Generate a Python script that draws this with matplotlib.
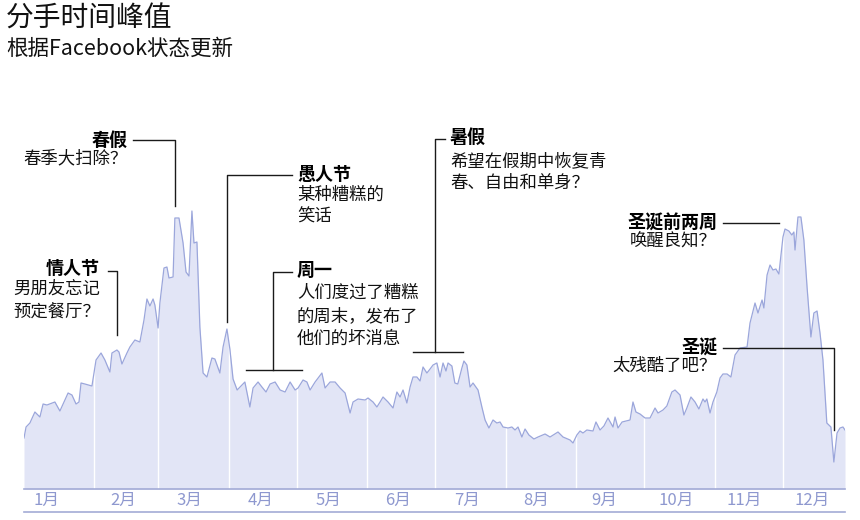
import matplotlib.pyplot as plt
from matplotlib.lines import Line2D

plt.rcParams['font.family'] = ['Noto Sans CJK SC', 'DejaVu Sans']

# day of year (0 = Jan 1) and relative number of breakup mentions
days = [0.0, 0.9, 2.6, 4.8, 7.0, 8.4, 10.1, 13.6, 15.8, 19.4, 21.1, 22.9, 24.2, 25.1, 26.8,
        29.9, 31.7, 33.9, 35.6, 37.8, 38.7, 40.9, 41.8, 43.1, 45.3, 46.6, 48.8, 51.0, 52.8,
        54.1, 55.4, 56.8, 57.6, 59.0, 59.8, 61.6, 62.9, 63.8, 65.6, 66.4, 68.2, 70.0, 71.3,
        72.6, 73.9, 74.8, 76.1, 77.4, 78.8, 80.5, 82.7, 84.0, 86.2, 87.6, 89.3, 90.6, 92.0,
        93.8, 95.9, 97.2, 99.4, 100.8, 103.0, 104.7, 106.5, 108.3, 110.5, 112.7, 114.9,
        117.1, 119.3, 120.6, 122.8, 124.5, 125.9, 128.1, 131.1, 132.5, 134.7, 136.9, 139.1,
        141.3, 142.6, 143.5, 144.8, 147.0, 150.1, 151.4, 153.6, 155.3, 156.7, 158.0, 160.2,
        162.4, 164.1, 165.5, 166.8, 168.5, 169.9, 171.2, 172.9, 174.3, 175.6, 177.3, 178.7,
        180.0, 181.7, 183.1, 184.4, 185.7, 186.6, 188.3, 189.6, 190.9, 192.7, 193.6, 194.9,
        196.3, 197.6, 199.8, 201.5, 202.9, 204.6, 206.4, 208.1, 209.5, 210.8, 213.0, 214.7,
        216.1, 217.4, 219.1, 220.5, 222.2, 224.4, 226.2, 229.3, 231.5, 235.0, 237.2, 240.3,
        241.6, 243.3, 244.7, 246.0, 247.7, 250.4, 251.7, 253.5, 255.2, 257.0, 259.2, 260.1,
        261.4, 263.2, 266.7, 268.0, 269.3, 271.1, 273.3, 275.5, 277.7, 279.0, 281.2, 282.9,
        285.1, 286.5, 288.7, 290.4, 291.7, 293.5, 295.3, 297.0, 298.8, 299.7, 300.5, 301.9,
        303.2, 304.9, 306.3, 307.6, 309.4, 311.1, 312.9, 315.1, 318.2, 319.5, 321.7, 323.0,
        324.8, 325.6, 327.0, 328.3, 329.6, 330.9, 332.2, 334.0, 334.9, 336.6, 337.9, 338.8,
        339.3, 340.6, 341.9, 343.2, 344.6, 346.3, 347.6, 349.0, 350.3, 351.6, 352.9, 353.3,
        355.1, 356.4, 357.8, 359.1, 360.4, 361.3]
values = [51, 62, 66, 77, 72, 85, 84, 87, 78, 96, 94, 85, 87, 106, 105,
          103, 129, 136, 129, 117, 136, 139, 137, 125, 136, 142, 149, 147, 169,
          190, 183, 190, 184, 161, 186, 221, 222, 211, 212, 271, 271, 246, 217,
          213, 278, 246, 247, 162, 116, 112, 131, 130, 116, 142, 160, 140, 110,
          99, 104, 107, 82, 101, 107, 102, 97, 105, 107, 99, 97,
          107, 99, 101, 109, 107, 99, 107, 116, 101, 107, 107, 101,
          96, 84, 76, 87, 90, 89, 91, 87, 82, 87, 92, 87,
          81, 97, 92, 99, 86, 102, 112, 112, 108, 122, 116, 120,
          124, 126, 112, 126, 118, 126, 123, 106, 105, 121, 128, 124,
          102, 106, 99, 82, 69, 61, 69, 66, 67, 62, 61, 62,
          59, 62, 52, 60, 54, 50, 52, 55, 52, 57, 52, 49,
          46, 54, 58, 56, 59, 58, 67, 59, 63, 71, 62, 72,
          61, 67, 69, 87, 77, 75, 71, 71, 81, 76, 79, 83,
          97, 99, 94, 74, 81, 92, 87, 80, 90, 87, 90, 76,
          87, 97, 111, 115, 115, 112, 134, 141, 142, 166, 186, 176,
          189, 181, 214, 224, 219, 220, 215, 252, 260, 258, 254, 257,
          239, 272, 272, 249, 202, 152, 176, 178, 156, 129, 82, 66,
          62, 27, 56, 61, 62, 59]

month_starts = [31, 59, 90, 120, 151, 181, 212, 243, 273, 304, 334]
month_label_days = [10, 43.5, 73, 104, 134, 164.5, 195, 225.5, 255.5, 287, 317, 347]
month_labels = ['1月', '2月', '3月', '4月', '5月', '6月', '7月', '8月', '9月', '10月', '11月', '12月']

W, H = 860, 520
fig = plt.figure(figsize=(8.6, 5.2), dpi=100)
ax = fig.add_axes([24 / W, 31 / H, 821 / W, 389 / H])

line_c = '#9ba6db'
fill_c = '#e2e5f6'
label_c = '#8e98cf'

ax.fill_between(days, values, 0, color=fill_c, lw=0, zorder=1)
for d in month_starts:
    ax.axvline(d, color='white', lw=1.0, zorder=2)
ax.plot(days, values, color=line_c, lw=0.9, zorder=3)

ax.set_xlim(0, 361.3)
ax.set_ylim(0, 389)
for s in ['top', 'right', 'left']:
    ax.spines[s].set_visible(False)
ax.spines['bottom'].set_color('#a3abd6')
ax.spines['bottom'].set_linewidth(1.2)
ax.set_yticks([])
ax.set_xticks(month_label_days)
ax.set_xticklabels(month_labels, color=label_c, fontsize=12)
ax.tick_params(axis='x', length=0, pad=2)
ax.plot([0, 1], [-23 / 389, -23 / 389], transform=ax.transAxes, color='#a3abd6',
        lw=1.2, clip_on=False)


def P(x, y):
    return (x / W, 1 - y / H)


def seg(*pts):
    xs = [p[0] / W for p in pts]
    ys = [1 - p[1] / H for p in pts]
    fig.add_artist(Line2D(xs, ys, color='#1a1a1a', lw=1.0, zorder=5))


def note(x, y, head, body, ha, gap=20, step=23):
    fig.text(*P(x, y), head, ha=ha, va='center', fontsize=13, fontweight='heavy', color='black')
    for i, line in enumerate(body):
        fig.text(*P(x, y + gap + i * step), line, ha=ha, va='center', fontsize=12.5, color='#111111')


fig.text(*P(6, 19), '分手时间峰值', ha='left', va='center', fontsize=20, color='#111111')
fig.text(*P(6, 49), '根据Facebook状态更新', ha='left', va='center', fontsize=15.5, color='#111111')

# 情人节
note(100, 268, '情人节', ['男朋友忘记', '预定餐厅？'], 'right', gap=21)
seg((108, 271), (117, 271), (117, 335))
# 春假
note(128, 140, '春假', ['春季大扫除？'], 'right', gap=18)
seg((133, 140), (175, 140), (175, 206))
# 愚人节
note(297, 175, '愚人节', ['某种糟糕的', '笑话'], 'left', gap=20, step=22)
seg((292, 175), (227, 175), (227, 322))
# 周一
note(297, 270, '周一', ['人们度过了糟糕', '的周末，发布了', '他们的坏消息'], 'left', gap=23, step=23)
seg((292, 272), (273, 272), (273, 370))
seg((246, 370), (302, 370))
# 暑假
note(450, 137, '暑假', ['希望在假期中恢复青', '春、自由和单身？'], 'left', gap=24, step=22)
seg((445, 139), (435, 139), (435, 352))
seg((413, 352), (463, 352))
# 圣诞前两周
note(717, 223, '圣诞前两周', ['唤醒良知？'], 'right', gap=19)
seg((723, 223), (779, 223))
# 圣诞
note(717, 348, '圣诞', ['太残酷了吧？'], 'right', gap=18)
seg((723, 348), (834, 348), (834, 430))

fig.savefig('out.png', dpi=100)
